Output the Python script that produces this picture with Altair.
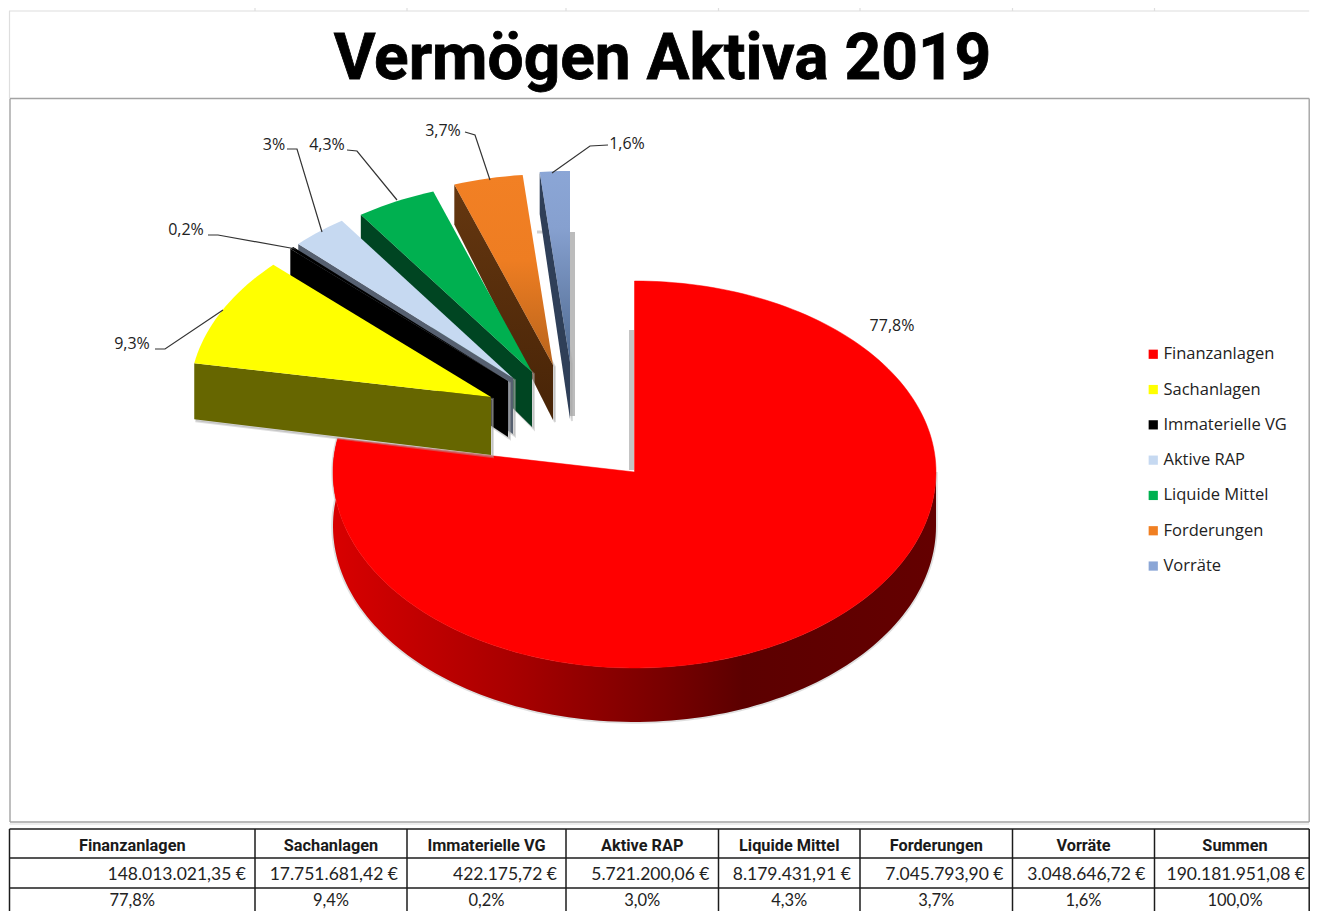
import math
import altair as alt
import pandas as pd

# ---------- data ----------
categories = ["Finanzanlagen", "Sachanlagen", "Immaterielle VG", "Aktive RAP",
              "Liquide Mittel", "Forderungen", "Vorräte"]
amounts = [148013021.35, 17751681.42, 422175.72, 5721200.06,
           8179431.91, 7045793.90, 3048646.72]
total_amount = 190181951.08
slice_labels = ["77,8%", "9,3%", "0,2%", "3%", "4,3%", "3,7%", "1,6%"]
table_headers = categories + ["Summen"]
table_percents = ["77,8%", "9,4%", "0,2%", "3,0%", "4,3%", "3,7%", "1,6%", "100,0%"]
colors = ["#ff0000", "#ffff00", "#000000", "#c6d9f1", "#00b050", "#f07f22", "#8ba6d6"]

# ---------- layout ----------
CX, CY, A, B_UP, B_DOWN = 634.5, 472, 301.5, 191, 196
apexes = [(634.5, 472), (491, 397), (508, 381), (513, 378), (532, 372), (553, 365), (570, 362)]
depth_apex = [54, 58, 56, 56, 55, 55, 57]
depth_outer = [54, 56, 44, 44, 42, 40, 42]
wall_fills = [None, "#666600", "#000000", "#566070", "#004522",
              {"gradient": "linear", "x1": 0, "x2": 0, "y1": 0, "y2": 1,
               "stops": [{"offset": 0, "color": "#653710"}, {"offset": 1, "color": "#482407"}]},
              "#2f3f58"]
top_fills = list(colors)
top_fills[5] = {"gradient": "linear", "x1": 0, "x2": 0, "y1": 0, "y2": 1,
                "stops": [{"offset": 0, "color": "#f28024"}, {"offset": .45, "color": "#ee7d22"},
                          {"offset": 1, "color": "#b8641c"}]}
top_fills[6] = {"gradient": "linear", "x1": 0, "x2": 0, "y1": 0, "y2": 1,
                "stops": [{"offset": 0, "color": "#8ba6d6"}, {"offset": .3, "color": "#86a0cf"},
                          {"offset": 1, "color": "#4f6a90"}]}
red_wall = {"gradient": "linear", "x1": 0, "x2": 1, "y1": 0, "y2": 0,
            "stops": [{"offset": 0, "color": "#d80000"}, {"offset": .3, "color": "#a80000"},
                      {"offset": .55, "color": "#780000"}, {"offset": .68, "color": "#5c0000"},
                      {"offset": 1, "color": "#640000"}]}

xs = alt.Scale(domain=[8, 1310], range=[0, 1302], zero=False, nice=False)
ys = alt.Scale(domain=[8, 911], range=[0, 903], zero=False, nice=False)
X = alt.X("x:Q", scale=xs, axis=None)
Y = alt.Y("y:Q", scale=ys, axis=None)


def poly(points, **mark):
    rows = [{"x": p[0], "y": p[1], "i": k} for k, p in enumerate(points)]
    return alt.Chart(alt.Data(values=rows)).mark_line(clip=True, **mark).encode(
        x=X, y=Y, order=alt.Order("i:Q"))


def rim(start, end, apex, b_up=B_UP, b_down=B_DOWN, down=0):
    n = max(2, int(abs(end - start) / 1.5))
    pts = []
    for k in range(n + 1):
        t = math.radians(start + (end - start) * k / n)
        c = -math.cos(t)
        pts.append((apex[0] + A * math.sin(t), apex[1] + (b_down if c > 0 else b_up) * c + down))
    return pts


def rules(rows, color, width):
    return alt.Chart(alt.Data(values=rows)).mark_rule(color=color, strokeWidth=width, clip=True).encode(
        x=X, x2=alt.X2("x2:Q"), y=Y, y2=alt.Y2("y2:Q"))


def texts(rows, font, **mark):
    return alt.Chart(alt.Data(values=rows)).mark_text(font=font, clip=True, **mark).encode(
        x=X, y=Y, text="t:N")


layers = []

# ---------- sheet grid, frames ----------
RIGHT = 1309.2
col_edges = [9.5, 255, 407, 566, 718.5, 860, 1012.5, 1154.5, RIGHT]
grid = [{"x": 9, "x2": RIGHT, "y": 11, "y2": 11}]
grid += [{"x": e, "x2": e, "y": 8, "y2": 11} for e in col_edges[1:-1]]
grid += [{"x": 9.5, "x2": 9.5, "y": 11, "y2": 98},
         {"x": 9.5, "x2": RIGHT, "y": 824, "y2": 824}]
layers.append(rules(grid, "#dedede", 1.2))
frame = [{"x": 10, "x2": RIGHT, "y": 98.5, "y2": 98.5}, {"x": 10, "x2": RIGHT, "y": 822, "y2": 822},
         {"x": 10, "x2": 10, "y": 98.5, "y2": 822}, {"x": RIGHT, "x2": RIGHT, "y": 98.5, "y2": 822}]
layers.append(rules(frame, "#a3a3a3", 1.4))

# ---------- legend carrier ----------
legend_df = pd.DataFrame({"x": [CX] * 7, "y": [CY + 60] * 7, "c": categories})
layers.append(alt.Chart(legend_df).mark_square(size=4).encode(
    x=X, y=Y,
    color=alt.Color("c:N", sort=categories, scale=alt.Scale(domain=categories, range=colors),
                    legend=alt.Legend(title=None, orient="none", legendX=1137, legendY=338,
                                      symbolType="square", symbolSize=85, symbolOpacity=1,
                                      symbolStrokeWidth=0, labelFont="Open Sans", labelFontSize=16.5,
                                      labelColor="#222222", labelOffset=2, rowPadding=18.3,
                                      labelLimit=200))))

# ---------- pie slices, derived from the amounts ----------
angles = [0]
for v in amounts:
    angles.append(angles[-1] + 360 * v / total_amount)

# red slice
red_top = [apexes[0]] + rim(0, angles[1], apexes[0]) + [apexes[0]]
wall_top = rim(90, angles[1], apexes[0])
wall_bottom = rim(90, angles[1], apexes[0], down=depth_apex[0])
red_wall_pts = wall_top + wall_bottom[::-1] + [wall_top[0]]
layers.append(poly(red_wall_pts, fill="#b0b0b0", stroke="#b0b0b0", strokeWidth=3.5, fillOpacity=.5, strokeOpacity=.4))
layers.append(poly([(631.5, 330), (631.5, 470)], stroke="#c4c4c4", strokeWidth=5))
layers.append(poly(red_wall_pts, fill=red_wall, strokeOpacity=0))
layers.append(poly(red_top, fill=colors[0], stroke=colors[0], strokeWidth=.5))

# exploded slices, back to front
layers.append(poly([(572.5, 232), (572.5, 416)], stroke="#bcbcbc", strokeWidth=5))
layers.append(poly([(537, 232), (547, 232)], stroke="#d0d0d0", strokeWidth=3))
for k in range(6, 0, -1):
    apex = apexes[k]
    outer = rim(angles[k], angles[k + 1], apex)
    wall = [outer[0], apex, (apex[0], apex[1] + depth_apex[k]),
            (outer[0][0], outer[0][1] + depth_outer[k]), outer[0]]
    layers.append(poly([(p[0] + 2, p[1] + 2) for p in wall], fill="#aaaaaa", fillOpacity=.5,
                       stroke="#aaaaaa", strokeWidth=2, strokeOpacity=.4))
    layers.append(poly(wall, fill=wall_fills[k], strokeOpacity=0))
    layers.append(poly([apex] + outer + [apex], fill=top_fills[k], strokeOpacity=0))

# ---------- leader lines and data labels ----------
leaders = [[(155, 349), (165, 349), (223, 310)],
           [(208, 235), (218, 235), (296, 249)],
           [(287, 149), (297, 149), (322, 232)],
           [(347, 150), (357, 151), (397, 200)],
           [(465, 132), (475, 135), (490, 180)],
           [(608, 145), (590, 146), (552, 173)]]
for pts in leaders:
    layers.append(poly(pts, stroke="#333333", strokeWidth=1.2))
label_pos = [(892, 326), (132, 344), (186, 230), (274, 145), (327, 145), (443, 131), (627, 144)]
layers.append(texts([{"x": p[0], "y": p[1], "t": t} for p, t in zip(label_pos, slice_labels)],
                    "Open Sans", fontSize=16, color="#222222", align="center", baseline="middle"))

# ---------- title ----------
layers.append(texts([{"x": 662.5, "y": 59.5, "t": "Vermögen Aktiva 2019"}],
                    "Roboto", fontSize=64, fontWeight="bold", color="#000000", stroke="#000000",
                    strokeWidth=.8, align="center", baseline="middle"))


# ---------- table ----------
def euro(v):
    s = f"{v:,.2f}".replace(",", "X").replace(".", ",").replace("X", ".")
    return s + " €"


row_lines = [829, 858, 888]
table = [{"x": 9.5, "x2": RIGHT, "y": r, "y2": r} for r in row_lines]
table += [{"x": e, "x2": e, "y": 829, "y2": 911} for e in col_edges]
layers.append(rules(table, "#1c1c1c", 1.5))
centers = [(a + b) / 2 for a, b in zip(col_edges, col_edges[1:])]
centers[-1] = 1235
layers.append(texts([{"x": c, "y": 846, "t": t} for c, t in zip(centers, table_headers)],
                    "Roboto", fontSize=16.3, fontWeight="bold", color="#1a1a1a", align="center", baseline="middle"))
value_right = [e - 9 for e in col_edges[1:-1]] + [1305]
layers.append(texts([{"x": e, "y": 875, "t": euro(v)} for e, v in zip(value_right, amounts + [total_amount])],
                    "Lato", fontSize=17.5, color="#222222", align="right", baseline="middle"))
layers.append(texts([{"x": c, "y": 901, "t": t} for c, t in zip(centers, table_percents)],
                    "Lato", fontSize=16.5, color="#222222", align="center", baseline="middle"))

chart = alt.layer(*layers).resolve_scale(color="independent").properties(
    width=1302, height=903, padding=0, autosize=alt.AutoSizeParams(type="none"),
    background="white"
).configure_view(stroke=None)

chart.save("out.html", embed_options={"renderer": "svg", "actions": False})
